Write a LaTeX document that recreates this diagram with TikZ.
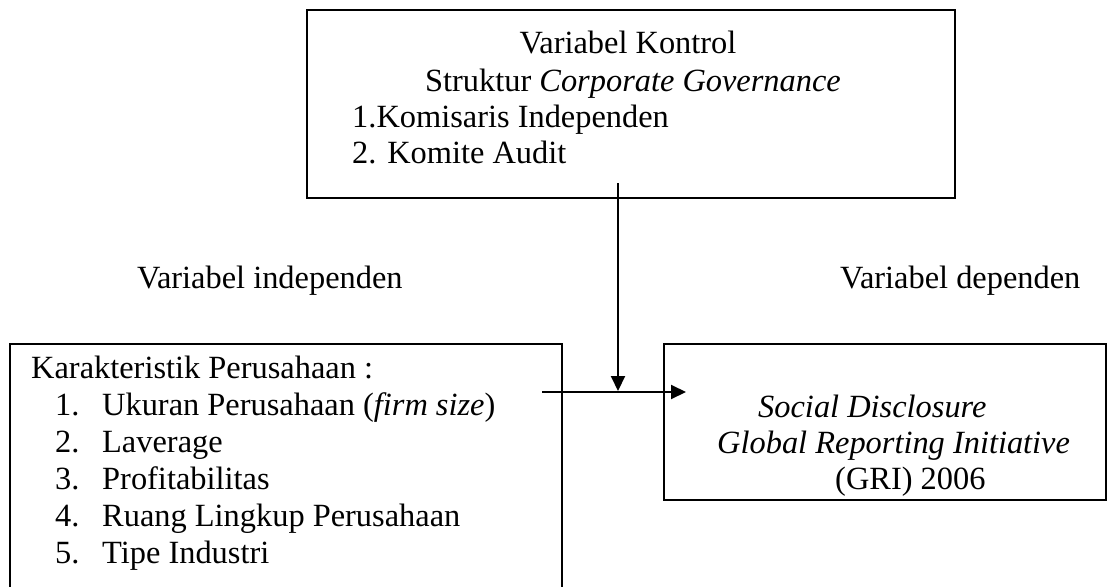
\documentclass[tikz,border=0pt]{standalone}
\usepackage{fontspec}
\setmainfont{Liberation Serif}
\usetikzlibrary{arrows.meta}
\begin{document}
\begin{tikzpicture}[x=1pt,y=-1pt,
  box/.style={draw,line width=2pt,inner sep=0pt,minimum width=#1},
  txt/.style={inner sep=0pt,font=\fontsize{32.4}{37}\selectfont},
  lt/.style={txt,anchor=base west},
  ct/.style={txt,anchor=base},
  conn/.style={line width=2pt,-{Triangle[length=15pt,width=14pt]}}]
\useasboundingbox (0,0) rectangle (1110,586);
\clip (0,0) rectangle (1110,586);
% frames
\node[box=648pt,minimum height=188pt] (ctrl) at (631,104) {};
\node[box=552pt,minimum height=256pt] (indep) at (286,472) {};
\node[box=442pt,minimum height=156pt] (dep) at (885,422) {};
% control variables
\node[ct] (c1) at (628,53) {Variabel Kontrol};
\node[ct] (c2) at (633,92) {Struktur \textit{Corporate Governance}};
\node[lt] (c3) at (352,127) {1.Komisaris Independen};
\node[lt] (c4) at (352,163) {2. Komite Audit};
% headings
\node[lt] (hi) at (137,288) {Variabel independen};
\node[lt] (hd) at (840,288) {Variabel dependen};
% company characteristics
\node[lt] (k0) at (31,378) {Karakteristik Perusahaan :};
\foreach \n/\t [count=\i] in {1/{Ukuran Perusahaan (\textit{firm size})},2/Laverage,3/Profitabilitas,4/Ruang Lingkup Perusahaan,5/Tipe Industri}{
  \node[lt] (n\i) at (55,378+37*\i) {\n.};
  \node[lt] (k\i) at (102,378+37*\i) {\t};
}
% dependent variable
\node[lt] (d1) at (758,417) {\textit{Social Disclosure}};
\node[lt] (d2) at (717,453) {\textit{Global Reporting Initiative}};
\node[lt] (d3) at (835,489) {(GRI) 2006};
% connectors
\coordinate (vstart) at (618,183);
\coordinate (vend) at (618,391);
\coordinate (hstart) at (542,392);
\coordinate (hend) at (686,392);
\draw[conn] (vstart) -- (vend);
\draw[conn] (hstart) -- (hend);
\end{tikzpicture}
\end{document}
